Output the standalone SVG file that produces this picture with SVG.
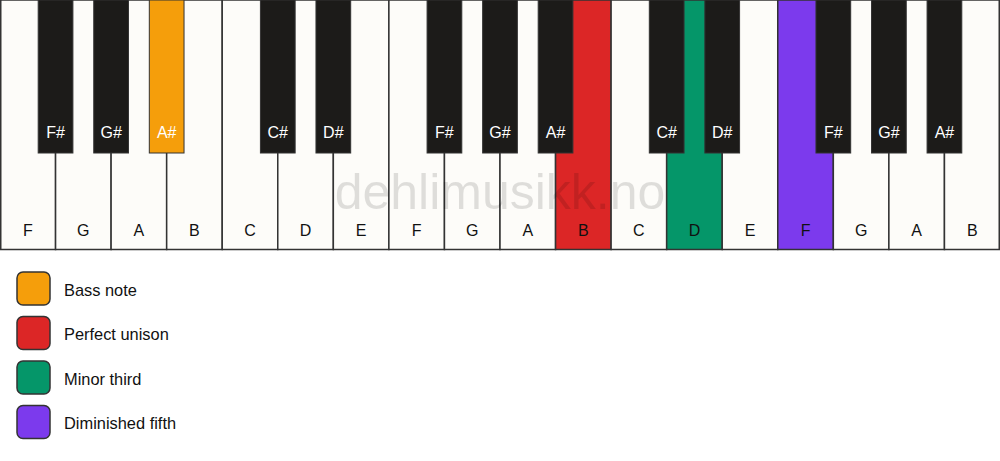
<svg xmlns="http://www.w3.org/2000/svg" width="1000" height="461" viewBox="0 0 1000 461">
<style>
.w{fill:#fdfcf9;stroke:#333;stroke-width:1.5}
.b{fill:#1c1b19;stroke:#333;stroke-width:1}
.lw{font-family:"Liberation Sans",Arial,sans-serif;font-size:16px;fill:#111;text-anchor:middle}
.lb{font-family:"Liberation Sans",Arial,sans-serif;font-size:16px;fill:#fff;text-anchor:middle}
.lg{font-family:"Liberation Sans",Arial,sans-serif;font-size:16.4px;fill:#111}
.sq{stroke:#333;stroke-width:1.5}
.bass{fill:#f59e0b}.uni{fill:#dc2626}.min3{fill:#059669}.dim5{fill:#7c3aed}
</style>
<rect width="1000" height="461" fill="#ffffff"/>
<g id="white-keys">
<g id="wk-F1"><rect class="w" x="0.75" y="0" width="54.81" height="249.5"/><text class="lw" x="27.78" y="236">F</text></g>
<g id="wk-G1"><rect class="w" x="55.56" y="0" width="55.56" height="249.5"/><text class="lw" x="83.33" y="236">G</text></g>
<g id="wk-A1"><rect class="w" x="111.11" y="0" width="55.56" height="249.5"/><text class="lw" x="138.89" y="236">A</text></g>
<g id="wk-B1"><rect class="w" x="166.67" y="0" width="55.56" height="249.5"/><text class="lw" x="194.44" y="236">B</text></g>
<g id="wk-C1"><rect class="w" x="222.22" y="0" width="55.56" height="249.5"/><text class="lw" x="250" y="236">C</text></g>
<g id="wk-D1"><rect class="w" x="277.78" y="0" width="55.56" height="249.5"/><text class="lw" x="305.56" y="236">D</text></g>
<g id="wk-E1"><rect class="w" x="333.33" y="0" width="55.56" height="249.5"/><text class="lw" x="361.11" y="236">E</text></g>
<g id="wk-F2"><rect class="w" x="388.89" y="0" width="55.56" height="249.5"/><text class="lw" x="416.67" y="236">F</text></g>
<g id="wk-G2"><rect class="w" x="444.44" y="0" width="55.56" height="249.5"/><text class="lw" x="472.22" y="236">G</text></g>
<g id="wk-A2"><rect class="w" x="500" y="0" width="55.56" height="249.5"/><text class="lw" x="527.78" y="236">A</text></g>
<g id="wk-B2"><rect class="w uni" x="555.56" y="0" width="55.56" height="249.5"/><text class="lw" x="583.33" y="236">B</text></g>
<g id="wk-C2"><rect class="w" x="611.11" y="0" width="55.56" height="249.5"/><text class="lw" x="638.89" y="236">C</text></g>
<g id="wk-D2"><rect class="w min3" x="666.67" y="0" width="55.56" height="249.5"/><text class="lw" x="694.44" y="236">D</text></g>
<g id="wk-E2"><rect class="w" x="722.22" y="0" width="55.56" height="249.5"/><text class="lw" x="750" y="236">E</text></g>
<g id="wk-F3"><rect class="w dim5" x="777.78" y="0" width="55.56" height="249.5"/><text class="lw" x="805.56" y="236">F</text></g>
<g id="wk-G3"><rect class="w" x="833.33" y="0" width="55.56" height="249.5"/><text class="lw" x="861.11" y="236">G</text></g>
<g id="wk-A3"><rect class="w" x="888.89" y="0" width="55.56" height="249.5"/><text class="lw" x="916.67" y="236">A</text></g>
<g id="wk-B3"><rect class="w" x="944.44" y="0" width="54.81" height="249.5"/><text class="lw" x="972.22" y="236">B</text></g>
</g>
<text id="watermark" x="500" y="209" font-family="'Liberation Sans',Arial,sans-serif" font-size="50" text-anchor="middle" fill="#000" fill-opacity="0.12">dehlimusikk.no</text>
<g id="black-keys">
<g id="bk-Fs1"><rect class="b" x="38.19" y="0" width="34.72" height="153"/><text class="lb" x="55.56" y="138">F#</text></g>
<g id="bk-Gs1"><rect class="b" x="93.75" y="0" width="34.72" height="153"/><text class="lb" x="111.11" y="138">G#</text></g>
<g id="bk-As1"><rect class="b bass" x="149.31" y="0" width="34.72" height="153"/><text class="lb" x="166.67" y="138">A#</text></g>
<g id="bk-Cs1"><rect class="b" x="260.42" y="0" width="34.72" height="153"/><text class="lb" x="277.78" y="138">C#</text></g>
<g id="bk-Ds1"><rect class="b" x="315.97" y="0" width="34.72" height="153"/><text class="lb" x="333.33" y="138">D#</text></g>
<g id="bk-Fs2"><rect class="b" x="427.08" y="0" width="34.72" height="153"/><text class="lb" x="444.44" y="138">F#</text></g>
<g id="bk-Gs2"><rect class="b" x="482.64" y="0" width="34.72" height="153"/><text class="lb" x="500" y="138">G#</text></g>
<g id="bk-As2"><rect class="b" x="538.19" y="0" width="34.72" height="153"/><text class="lb" x="555.56" y="138">A#</text></g>
<g id="bk-Cs2"><rect class="b" x="649.31" y="0" width="34.72" height="153"/><text class="lb" x="666.67" y="138">C#</text></g>
<g id="bk-Ds2"><rect class="b" x="704.86" y="0" width="34.72" height="153"/><text class="lb" x="722.22" y="138">D#</text></g>
<g id="bk-Fs3"><rect class="b" x="815.97" y="0" width="34.72" height="153"/><text class="lb" x="833.33" y="138">F#</text></g>
<g id="bk-Gs3"><rect class="b" x="871.53" y="0" width="34.72" height="153"/><text class="lb" x="888.89" y="138">G#</text></g>
<g id="bk-As3"><rect class="b" x="927.08" y="0" width="34.72" height="153"/><text class="lb" x="944.44" y="138">A#</text></g>
</g>
<g id="legend">
<g id="lg-bass"><rect class="sq bass" x="17" y="272" width="33" height="33" rx="6"/><text class="lg" x="64" y="295.5">Bass note</text></g>
<g id="lg-unison"><rect class="sq uni" x="17" y="316.5" width="33" height="33" rx="6"/><text class="lg" x="64" y="340">Perfect unison</text></g>
<g id="lg-min3"><rect class="sq min3" x="17" y="361" width="33" height="33" rx="6"/><text class="lg" x="64" y="384.5">Minor third</text></g>
<g id="lg-dim5"><rect class="sq dim5" x="17" y="405.5" width="33" height="33" rx="6"/><text class="lg" x="64" y="429">Diminished fifth</text></g>
</g>
</svg>
